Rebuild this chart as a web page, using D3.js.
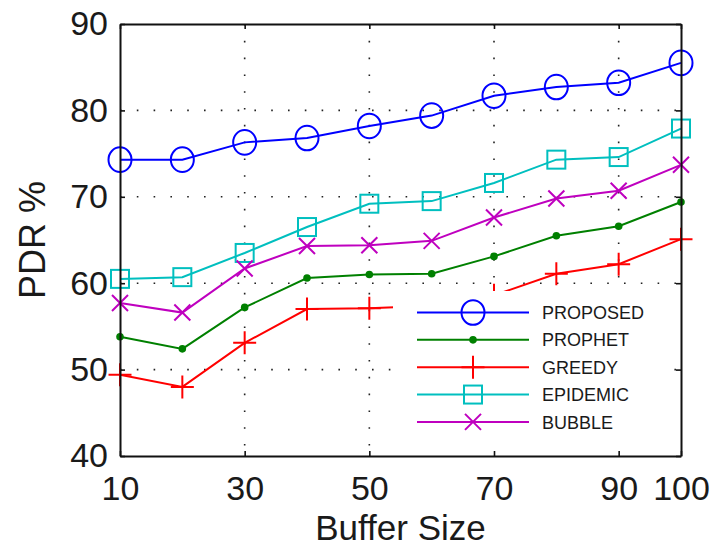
<!DOCTYPE html>
<html>
<head>
<meta charset="utf-8">
<script src="https://cdn.jsdelivr.net/npm/d3@7"></script>
<style>
  html, body { margin: 0; padding: 0; background: #fff; }
  svg { display: block; }
  text { font-family: "Liberation Sans", Arial, Helvetica, sans-serif; fill: #1a1a1a; }
</style>
</head>
<body>
<svg id="chart" width="714" height="550"></svg>
<script>
// Buffer sizes on the x axis
const bufferSizes = [10, 20, 30, 40, 50, 60, 70, 80, 90, 100];
const xTickValues = [10, 30, 50, 70, 90, 100];
const yTickValues = [40, 50, 60, 70, 80, 90];

// Packet delivery ratio (%) per routing scheme
const proposed = [74.3, 74.3, 76.3, 76.8, 78.2, 79.4, 81.7, 82.7, 83.2, 85.5];
const prophet  = [53.8, 52.4, 57.2, 60.6, 61.0, 61.1, 63.1, 65.5, 66.6, 69.4];
const greedy   = [49.4, 48.0, 53.1, 57.0, 57.1, 57.4, 58.6, 61.1, 62.2, 65.1];
const epidemic = [60.5, 60.7, 63.5, 66.5, 69.2, 69.5, 71.6, 74.3, 74.6, 77.9];
const bubble   = [57.7, 56.6, 61.7, 64.3, 64.4, 64.9, 67.6, 69.8, 70.7, 73.7];

const seriesNames = ["PROPOSED", "PROPHET", "GREEDY", "EPIDEMIC", "BUBBLE"];
const seriesValues = [proposed, prophet, greedy, epidemic, bubble];
const seriesColors = ["#0000ff", "#008000", "#ff0000", "#00bfbf", "#bf00bf"];
const seriesMarkers = ["circle", "dot", "plus", "square", "cross"];

const width = 714, height = 550;
const margin = { top: 24, right: 33, bottom: 94, left: 120 };
const innerW = width - margin.left - margin.right;
const innerH = height - margin.top - margin.bottom;

const svg = d3.select("#chart");
const g = svg.append("g").attr("transform", `translate(${margin.left},${margin.top})`);

const x = d3.scaleLinear().domain([10, 100]).range([0, innerW]);
const y = d3.scaleLinear().domain([40, 90]).range([innerH, 0]);

// Dotted grid
const grid = g.append("g").attr("class", "grid")
  .attr("stroke", "#222").attr("stroke-width", 1.6)
  .attr("stroke-dasharray", "1.6 15.2");
grid.selectAll("line.v").data(xTickValues.filter(v => v > 10 && v < 100)).join("line")
  .attr("class", "v")
  .attr("x1", d => x(d)).attr("x2", d => x(d))
  .attr("y1", 0).attr("y2", innerH);
grid.selectAll("line.h").data(yTickValues.filter(v => v > 40 && v < 90)).join("line")
  .attr("class", "h")
  .attr("x1", 0).attr("x2", innerW)
  .attr("y1", d => y(d)).attr("y2", d => y(d));

// Marker drawing helper
function drawMarker(sel, type, color) {
  if (type === "circle") {
    sel.append("ellipse").attr("rx", 11.5).attr("ry", 12.3)
      .attr("fill", "none").attr("stroke", color).attr("stroke-width", 2);
  } else if (type === "dot") {
    sel.append("circle").attr("r", 3.8).attr("fill", color);
  } else if (type === "plus") {
    sel.append("path").attr("d", "M-11.5,0H11.5M0,-11.5V11.5")
      .attr("stroke", color).attr("stroke-width", 2).attr("fill", "none");
  } else if (type === "square") {
    sel.append("rect").attr("x", -9).attr("y", -9).attr("width", 18).attr("height", 18)
      .attr("fill", "none").attr("stroke", color).attr("stroke-width", 2);
  } else if (type === "cross") {
    sel.append("path").attr("d", "M-8,-8L8,8M-8,8L8,-8")
      .attr("stroke", color).attr("stroke-width", 2).attr("fill", "none");
  }
}

const line = d3.line().x((d, i) => x(bufferSizes[i])).y(d => y(d));

seriesValues.forEach((vals, si) => {
  const s = g.append("g").attr("class", "series");
  s.append("path").datum(vals)
    .attr("d", line)
    .attr("fill", "none")
    .attr("stroke", seriesColors[si])
    .attr("stroke-width", 2);
  s.selectAll("g.m").data(vals).join("g")
    .attr("class", "m")
    .attr("transform", (d, i) => `translate(${x(bufferSizes[i])},${y(d)})`)
    .each(function () { drawMarker(d3.select(this), seriesMarkers[si], seriesColors[si]); });
});

// Axes box with inward ticks
const axisStyle = sel => {
  sel.select(".domain").attr("stroke", "#111").attr("stroke-width", 2);
  sel.selectAll(".tick line").attr("stroke", "#111").attr("stroke-width", 1.6);
  sel.selectAll("text").attr("font-size", 34).attr("fill", "#1a1a1a")
    .attr("font-family", "\"Liberation Sans\", Arial, Helvetica, sans-serif");
};

g.append("g").attr("transform", `translate(0,${innerH})`)
  .call(d3.axisBottom(x).tickValues(xTickValues).tickFormat(d3.format("d"))
    .tickSizeInner(-5).tickSizeOuter(0).tickPadding(20))
  .call(axisStyle);
g.append("g")
  .call(d3.axisTop(x).tickValues(xTickValues).tickFormat("")
    .tickSizeInner(-5).tickSizeOuter(0))
  .call(axisStyle);
g.append("g")
  .call(d3.axisLeft(y).tickValues(yTickValues).tickFormat(d3.format("d"))
    .tickSizeInner(-5).tickSizeOuter(0).tickPadding(12))
  .call(axisStyle);
g.append("g").attr("transform", `translate(${innerW},0)`)
  .call(d3.axisRight(y).tickValues(yTickValues).tickFormat("")
    .tickSizeInner(-5).tickSizeOuter(0))
  .call(axisStyle);

// Axis titles
svg.append("text")
  .attr("x", margin.left + innerW / 2)
  .attr("y", 540)
  .attr("text-anchor", "middle")
  .attr("font-size", 35)
  .text("Buffer Size");
svg.append("text")
  .attr("transform", `translate(45,${margin.top + innerH / 2}) rotate(-90)`)
  .attr("text-anchor", "middle")
  .attr("font-size", 36)
  .text("PDR %");

// Legend
const legend = g.append("g").attr("transform", `translate(${393 - margin.left},${291 - margin.top})`);
legend.append("rect")
  .attr("width", 280).attr("height", 155)
  .attr("fill", "#fff");
seriesNames.forEach((name, i) => {
  const row = legend.append("g").attr("transform", `translate(0,${21.5 + i * 27.35})`);
  row.append("line").attr("x1", 24).attr("x2", 136)
    .attr("stroke", seriesColors[i]).attr("stroke-width", 2);
  const m = row.append("g").attr("transform", "translate(80,0)");
  drawMarker(m, seriesMarkers[i], seriesColors[i]);
  row.append("text").attr("x", 149).attr("y", 6.6)
    .attr("font-size", 18).text(name);
});
</script>
</body>
</html>
